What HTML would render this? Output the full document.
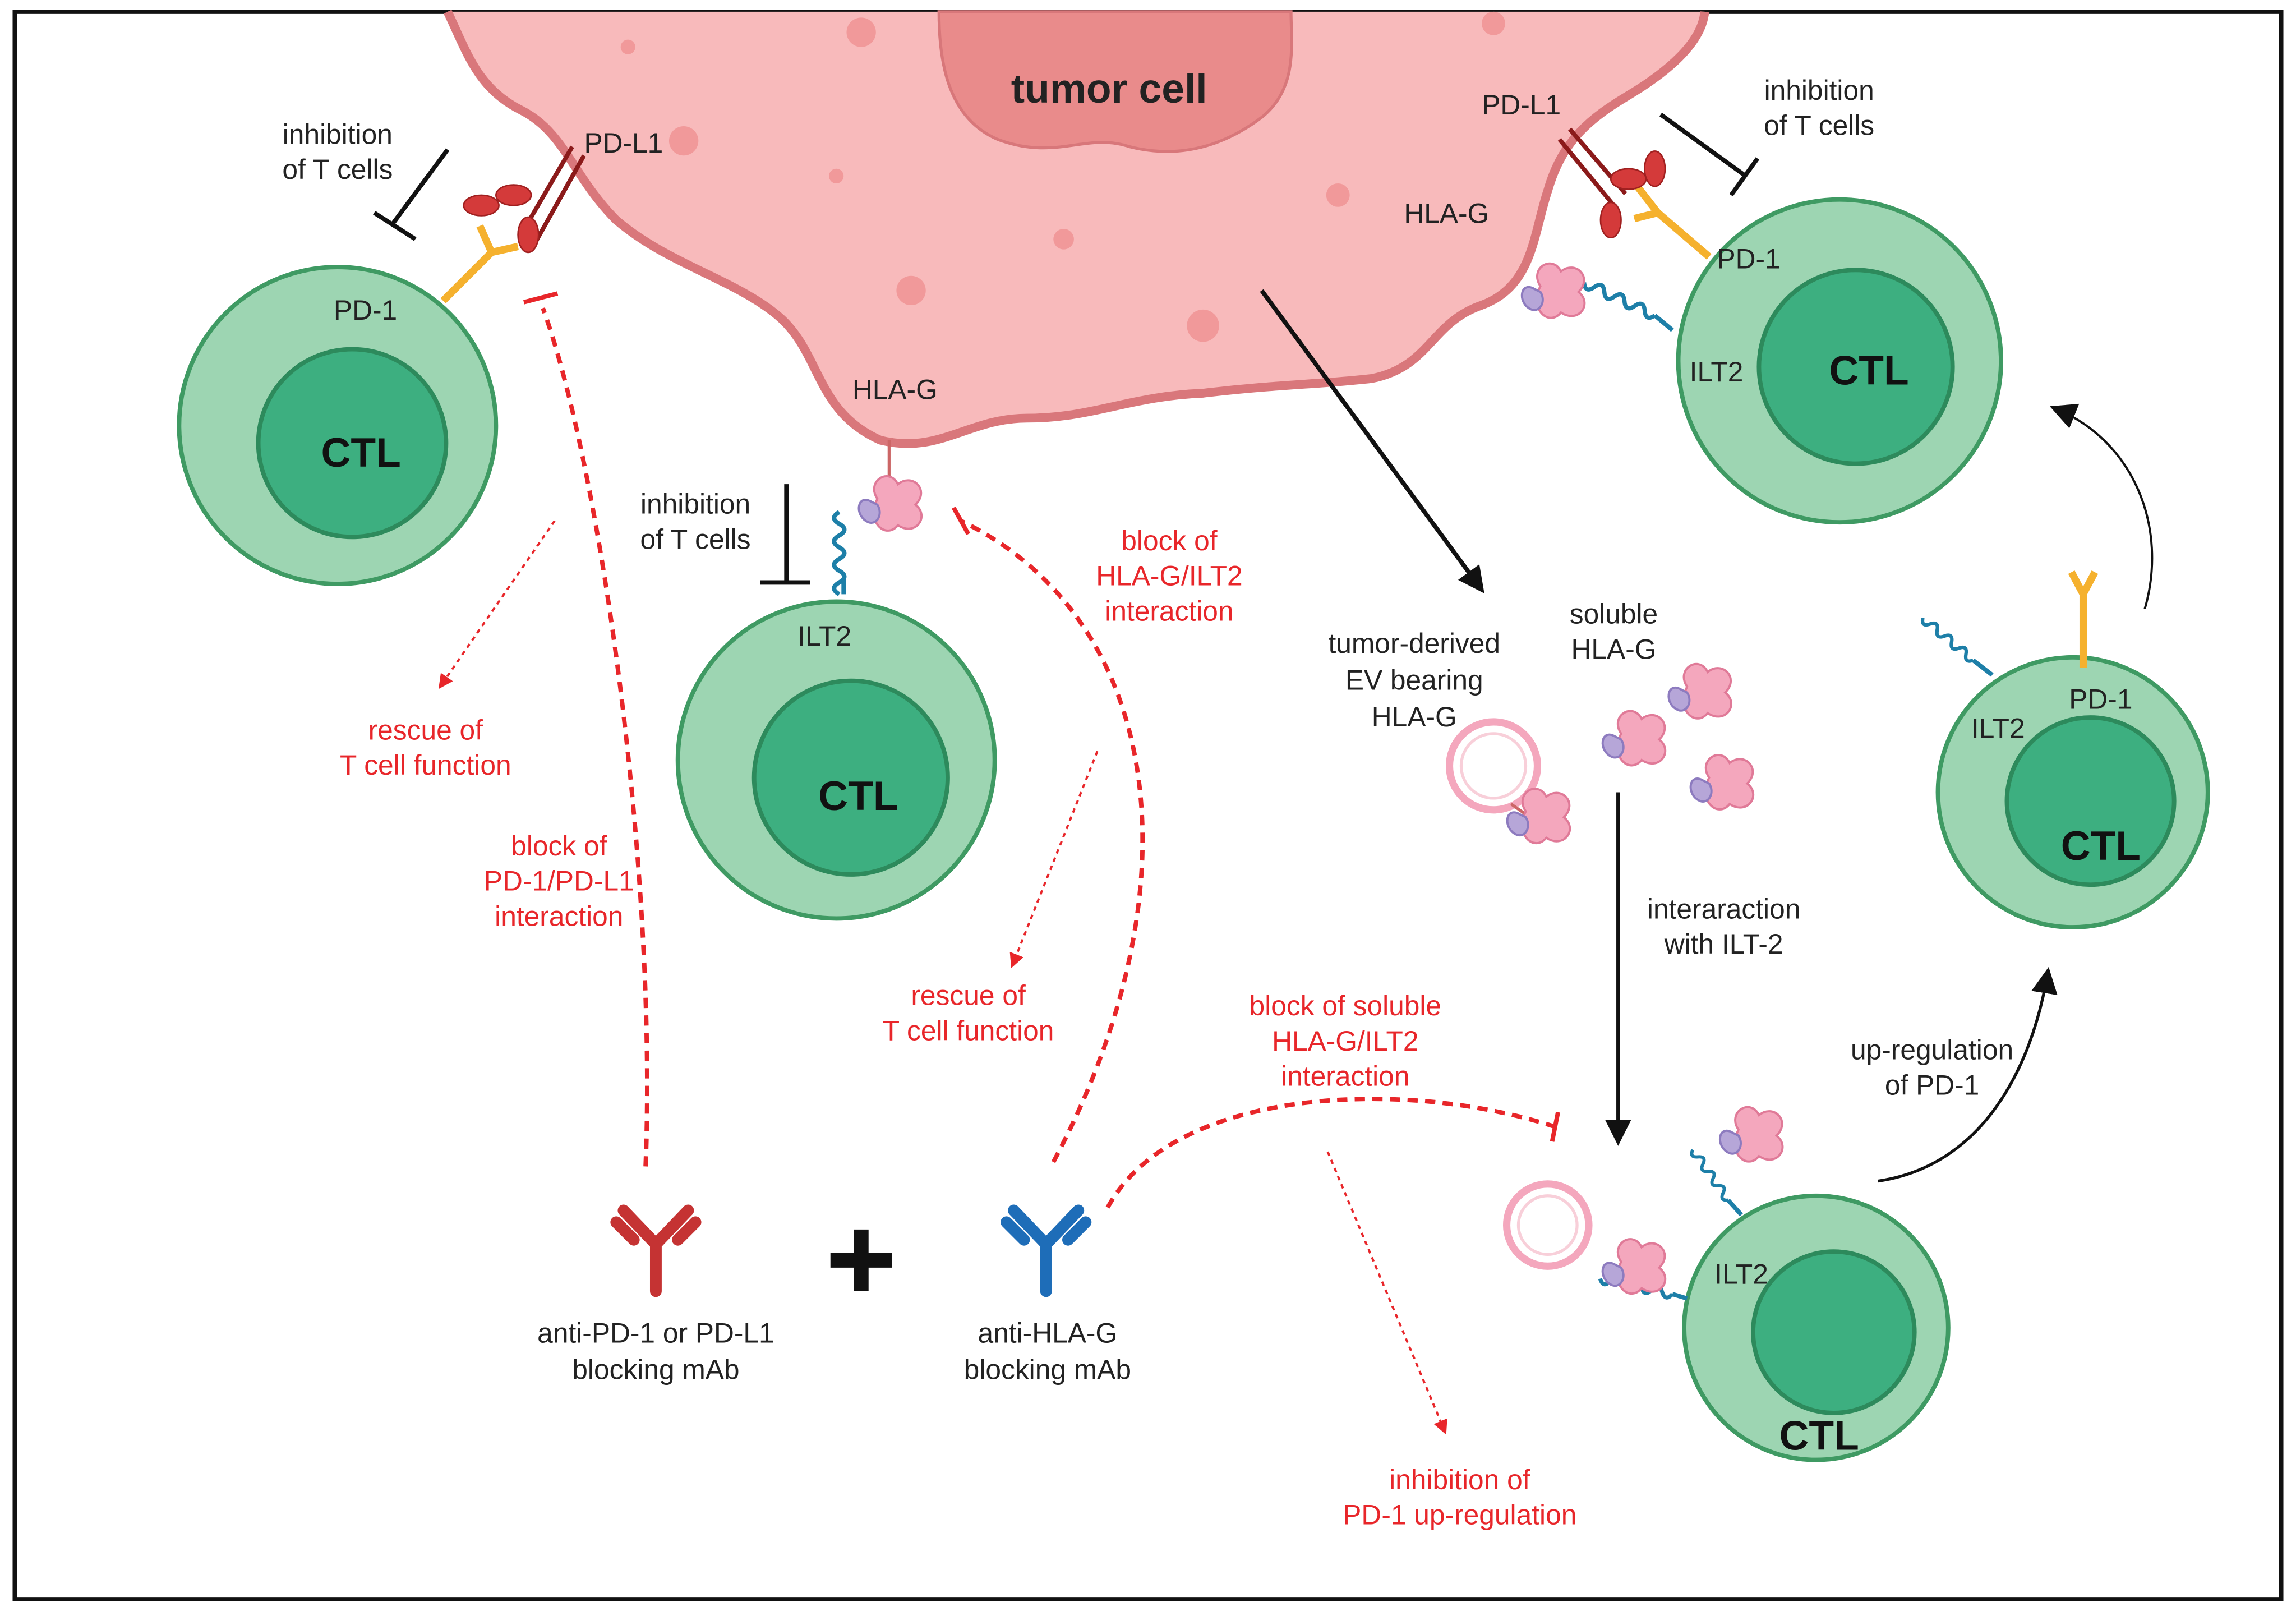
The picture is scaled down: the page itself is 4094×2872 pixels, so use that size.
<!DOCTYPE html>
<html><head><meta charset="utf-8"><style>
html,body{margin:0;padding:0;background:#fff}
svg{display:block}
text{font-family:"Liberation Sans",sans-serif}
</style></head><body>
<svg width="4094" height="2872" viewBox="0 0 1565 1098" xmlns="http://www.w3.org/2000/svg">
<defs>
<marker id="ab2" markerWidth="18" markerHeight="18" refX="15" refY="9" orient="auto" markerUnits="userSpaceOnUse"><path d="M0,0 L18,9 L0,18 z" fill="#111"/></marker>
<marker id="ar" markerWidth="10" markerHeight="10" refX="8" refY="5" orient="auto" markerUnits="userSpaceOnUse"><path d="M0,0 L10,5 L0,10 z" fill="#e8262a"/></marker>
<g id="hla"><path d="M0,0 c-8,-12 8,-22 14,-10 c10,-8 22,4 12,14 c10,8 0,22 -12,14 c-8,10 -22,-2 -14,-18z" fill="#f4a7bd" stroke="#e07a98" stroke-width="1.5"/><path d="M-4,2 c-10,-6 -12,10 -2,14 c6,2 10,-6 6,-12z" fill="#b6a6d8" stroke="#8d7bbf" stroke-width="1.5"/></g>
<path id="wv" d="M0,0 q4,-7 8,0 q4,7 8,0 q4,-7 8,0 q4,7 8,0 q4,-7 8,0 q4,7 8,0 q4,-7 8,0" fill="none" stroke="#1d7fa8" stroke-width="3"/>
</defs>
<rect x="10" y="8" width="1545" height="1082" fill="#fff" stroke="#111" stroke-width="3"/>
<path d="M305,8 C318,35 325,60 355,75 C385,90 390,120 420,150 C455,180 500,190 530,215 C560,240 555,280 600,300 C640,310 660,285 700,285 C745,285 770,270 820,268 C870,262 900,262 935,258 C975,250 975,220 1010,208 C1045,195 1045,160 1055,130 C1065,95 1085,80 1110,65 C1135,50 1160,30 1162,8" fill="#f8babb" stroke="#d9777b" stroke-width="6"/>
<path d="M640,8 C640,40 645,80 680,95 C720,110 740,90 770,100 C810,110 840,95 860,80 C885,60 880,30 880,8 Z" fill="#e98b8b" stroke="#d8777a" stroke-width="2"/>
<text x="756" y="70" font-size="28" font-weight="bold" text-anchor="middle" fill="#222">tumor cell</text>
<g fill="#f1999a"><circle cx="587" cy="22" r="10"/><circle cx="466" cy="96" r="10"/><circle cx="570" cy="120" r="5"/><circle cx="621" cy="198" r="10"/><circle cx="725" cy="163" r="7"/><circle cx="820" cy="222" r="11"/><circle cx="912" cy="133" r="8"/><circle cx="428" cy="32" r="5"/><circle cx="1018" cy="16" r="8"/></g>
<g stroke="#3f9a63" stroke-width="3">
<circle cx="230" cy="290" r="108" fill="#9dd5b2"/><circle cx="240" cy="302" r="64" fill="#3daf80" stroke="#2d8a5c"/>
<circle cx="570" cy="518" r="108" fill="#9dd5b2"/><circle cx="580" cy="530" r="66" fill="#3daf80" stroke="#2d8a5c"/>
<circle cx="1254" cy="246" r="110" fill="#9dd5b2"/><circle cx="1265" cy="250" r="66" fill="#3daf80" stroke="#2d8a5c"/>
<circle cx="1413" cy="540" r="92" fill="#9dd5b2"/><circle cx="1425" cy="546" r="57" fill="#3daf80" stroke="#2d8a5c"/>
<circle cx="1238" cy="905" r="90" fill="#9dd5b2"/><circle cx="1250" cy="908" r="55" fill="#3daf80" stroke="#2d8a5c"/>
</g>
<g font-size="28" font-weight="bold" fill="#111" text-anchor="middle">
<text x="246" y="318">CTL</text><text x="585" y="552">CTL</text><text x="1274" y="262">CTL</text><text x="1432" y="586">CTL</text><text x="1240" y="988">CTL</text>
</g>
<!-- left receptors -->
<path d="M302,205 L335,172 M335,172 l-8,-18 M335,172 l18,-4" stroke="#f5b12e" stroke-width="5" fill="none"/>
<path d="M355,160 L390,100 M365,165 L398,106" stroke="#8b1a1a" stroke-width="3"/>
<g fill="#d43a3a" stroke="#a02020"><ellipse cx="328" cy="140" rx="12" ry="7"/><ellipse cx="350" cy="133" rx="12" ry="7"/><ellipse cx="360" cy="160" rx="7" ry="12"/></g>
<!-- middle -->
<use href="#wv" transform="translate(572,405) rotate(-90)"/>
<path d="M575,405 L575,395" stroke="#1d7fa8" stroke-width="3"/>
<path d="M606,300 L606,325" stroke="#c66" stroke-width="2"/>
<use href="#hla" x="598" y="340"/>
<!-- right top -->
<path d="M1165,175 L1130,145 M1130,145 l-14,-18 M1130,145 l-16,4" stroke="#f5b12e" stroke-width="5" fill="none"/>
<path d="M1063,95 L1100,140 M1070,88 L1108,132" stroke="#8b1a1a" stroke-width="3"/>
<g fill="#d43a3a" stroke="#a02020"><ellipse cx="1098" cy="150" rx="7" ry="12"/><ellipse cx="1110" cy="122" rx="12" ry="7"/><ellipse cx="1128" cy="115" rx="7" ry="12"/></g>
<path d="M1140,225 L1128,215" stroke="#1d7fa8" stroke-width="3"/>
<use href="#wv" transform="translate(1128,215) rotate(-155) scale(0.95)"/>
<use href="#hla" x="1050" y="195"/>
<!-- right middle CTL -->
<path d="M1420,455 L1420,405 M1420,405 l-8,-15 M1420,405 l8,-15" stroke="#f5b12e" stroke-width="5" fill="none"/>
<path d="M1358,460 L1345,450" stroke="#1d7fa8" stroke-width="3"/>
<use href="#wv" transform="translate(1345,450) rotate(-140) scale(0.8)"/>
<!-- bottom CTL -->
<path d="M1187,828 L1178,818" stroke="#1d7fa8" stroke-width="3"/>
<use href="#wv" transform="translate(1178,818) rotate(-125) scale(0.75)"/>
<use href="#hla" x="1185" y="770"/>
<path d="M1150,885 L1140,882" stroke="#1d7fa8" stroke-width="3"/>
<use href="#wv" transform="translate(1140,882) rotate(-168) scale(0.9)"/>
<use href="#hla" x="1105" y="860"/>
<circle cx="1055" cy="835" r="28" fill="#fff" stroke="#f4a7bd" stroke-width="5"/><circle cx="1055" cy="835" r="20" fill="none" stroke="#f8cfd9" stroke-width="2"/>
<use href="#hla" x="1105" y="500"/><use href="#hla" x="1150" y="468"/><use href="#hla" x="1165" y="530"/>
<circle cx="1018" cy="522" r="30" fill="#fff" stroke="#f4a7bd" stroke-width="5"/><circle cx="1018" cy="522" r="22" fill="none" stroke="#f8cfd9" stroke-width="2"/>
<path d="M1030,548 L1040,555" stroke="#c66" stroke-width="2"/><use href="#hla" x="1040" y="553"/>
<!-- antibodies -->
<g stroke="#c53333" stroke-width="8" fill="none" stroke-linecap="round"><path d="M447,880 L447,848 L425,825 M447,848 L469,825"/><path d="M420,833 L432,845 M474,833 L462,845"/></g>
<g stroke="#1e6db8" stroke-width="8" fill="none" stroke-linecap="round"><path d="M713,880 L713,848 L691,825 M713,848 L735,825"/><path d="M686,833 L698,845 M740,833 L728,845"/></g>
<path d="M587,838 L587,880 M566,859 L608,859" stroke="#111" stroke-width="10"/>
<g stroke="#111" stroke-width="3" fill="none">
<path d="M305,102 L268,152 M255,145 L283,163"/>
<path d="M536,330 L536,397 M518,397 L552,397"/>
<path d="M1132,78 L1190,120 M1180,133 L1198,108"/>
</g>
<path d="M860,198 L1010,402" stroke="#111" stroke-width="3" marker-end="url(#ab2)"/>
<path d="M1103,540 L1103,778" stroke="#111" stroke-width="2.5" marker-end="url(#ab2)"/>
<path d="M1280,805 C1350,795 1385,730 1396,662" stroke="#111" stroke-width="2" fill="none" marker-end="url(#ab2)"/>
<path d="M1462,415 C1478,360 1455,300 1400,278" stroke="#111" stroke-width="1.5" fill="none" marker-end="url(#ab2)"/>
<g stroke="#e8262a" stroke-width="3" fill="none" stroke-dasharray="7 5">
<path d="M440,795 C448,600 410,320 370,210"/>
<path d="M718,792 C820,600 790,420 655,355"/>
<path d="M755,823 C800,740 960,735 1060,768"/>
</g>
<g stroke="#e8262a" stroke-width="3"><path d="M357,206 L380,200"/><path d="M650,346 L660,364"/><path d="M1062,758 L1058,778"/></g>
<g stroke="#e8262a" stroke-width="1.5" fill="none" stroke-dasharray="3 3">
<path d="M378,355 L300,468" marker-end="url(#ar)"/>
<path d="M748,512 L690,658" marker-end="url(#ar)"/>
<path d="M905,785 L985,976" marker-end="url(#ar)"/>
</g>
<g font-size="19" fill="#222" text-anchor="middle">
<text x="230" y="98">inhibition</text><text x="230" y="122">of T cells</text>
<text x="474" y="350">inhibition</text><text x="474" y="374">of T cells</text>
<text x="1240" y="68">inhibition</text><text x="1240" y="92">of T cells</text>
<text x="425" y="104">PD-L1</text><text x="1037" y="78">PD-L1</text>
<text x="249" y="218">PD-1</text><text x="1192" y="183">PD-1</text><text x="1432" y="483">PD-1</text>
<text x="610" y="272">HLA-G</text><text x="986" y="152">HLA-G</text>
<text x="562" y="440">ILT2</text><text x="1170" y="260">ILT2</text><text x="1362" y="503">ILT2</text><text x="1187" y="875">ILT2</text>
<text x="964" y="445">tumor-derived</text><text x="964" y="470">EV bearing</text><text x="964" y="495">HLA-G</text>
<text x="1100" y="425">soluble</text><text x="1100" y="449">HLA-G</text>
<text x="1175" y="626">interaraction</text><text x="1175" y="650">with ILT-2</text>
<text x="1317" y="722">up-regulation</text><text x="1317" y="746">of PD-1</text>
<text x="447" y="915">anti-PD-1 or PD-L1</text><text x="447" y="940">blocking mAb</text>
<text x="714" y="915">anti-HLA-G</text><text x="714" y="940">blocking mAb</text>
</g>
<g font-size="19" fill="#e8262a" text-anchor="middle">
<text x="290" y="504">rescue of</text><text x="290" y="528">T cell function</text>
<text x="381" y="583">block of</text><text x="381" y="607">PD-1/PD-L1</text><text x="381" y="631">interaction</text>
<text x="797" y="375">block of</text><text x="797" y="399">HLA-G/ILT2</text><text x="797" y="423">interaction</text>
<text x="660" y="685">rescue of</text><text x="660" y="709">T cell function</text>
<text x="917" y="692">block of soluble</text><text x="917" y="716">HLA-G/ILT2</text><text x="917" y="740">interaction</text>
<text x="995" y="1015">inhibition of</text><text x="995" y="1039">PD-1 up-regulation</text>
</g>
</svg>
</body></html>
